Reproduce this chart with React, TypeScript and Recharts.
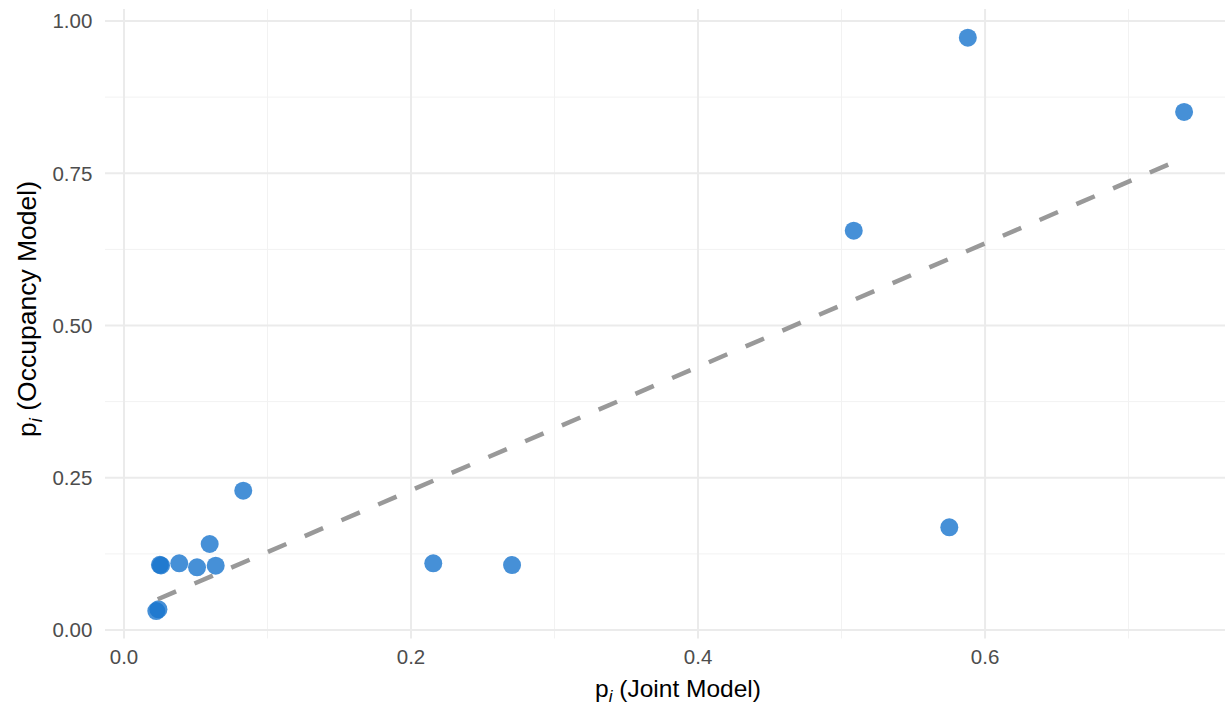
import React from "react";
import { ScatterChart, Scatter, XAxis, YAxis, CartesianGrid, Label } from "recharts";

const jointP = [0.0225, 0.0240, 0.0250, 0.0258, 0.0385, 0.0509, 0.0597, 0.0639, 0.0831, 0.2155, 0.2704, 0.5085, 0.5751, 0.5880, 0.7387];
const occupancyP = [0.031, 0.034, 0.107, 0.106, 0.1095, 0.103, 0.1412, 0.1056, 0.2287, 0.1095, 0.1067, 0.6557, 0.1686, 0.9726, 0.8506];

const fitX = [0.0235, 0.7387];
const fitY = [0.0504, 0.7754];

const xTicks = [0, 0.2, 0.4, 0.6];
const xTickLabels = ["0.0", "0.2", "0.4", "0.6"];
const xMinor = [0.1, 0.3, 0.5, 0.7];
const yTicks = [0, 0.25, 0.5, 0.75, 1];
const yTickLabels = ["0.00", "0.25", "0.50", "0.75", "1.00"];
const yMinor = [0.125, 0.375, 0.625, 0.875];

const points = jointP.map((x, i) => ({ x, y: occupancyP[i] }));
const fitLine = fitX.map((x, i) => ({ x, y: fitY[i] }));

const FONT = "'Liberation Sans', Arial, Helvetica, sans-serif";

const Dot = (props: any) => {
  const { cx, cy } = props;
  if (cx == null || cy == null) return null;
  return <circle cx={cx} cy={cy} r={9} fill="#1874CD" fillOpacity={0.8} />;
};

const NoShape = () => <g />;

const XTitle = () => (
  <text x={678} y={697} textAnchor="middle" fontFamily={FONT} fontSize={24.5} fill="#000">
    <tspan>p</tspan>
    <tspan fontStyle="italic" fontSize={17} dy={5}>i</tspan>
    <tspan dy={-5}> (Joint Model)</tspan>
  </text>
);

const YTitle = () => (
  <text
    x={0}
    y={0}
    transform="translate(36,309) rotate(-90)"
    textAnchor="middle"
    fontFamily={FONT}
    fontSize={26.5}
    fill="#000"
  >
    <tspan>p</tspan>
    <tspan fontStyle="italic" fontSize={18.5} dy={5.5}>i</tspan>
    <tspan dy={-5.5}> (Occupancy Model)</tspan>
  </text>
);

export default function App() {
  return (
    <div style={{ position: "absolute", left: 0, top: 0, width: 1225, height: 706, background: "#fff" }}>
      <ScatterChart width={1225} height={706} margin={{ top: 9, right: 0, bottom: 0, left: 0 }}>
        <CartesianGrid
          stroke="#f2f2f2"
          strokeWidth={1}
          horizontalValues={yMinor}
          verticalValues={xMinor}
        />
        <CartesianGrid
          stroke="#ebebeb"
          strokeWidth={2}
          horizontalValues={yTicks}
          verticalValues={xTicks}
        />
        <XAxis
          type="number"
          dataKey="x"
          domain={[-0.01324, 0.7672]}
          allowDataOverflow
          ticks={xTicks}
          tickFormatter={(v: number) => xTickLabels[xTicks.indexOf(v)] ?? String(v)}
          axisLine={false}
          tickLine={false}
          tickSize={0}
          tickMargin={11}
          height={67.5}
          tick={{ fill: "#4d4d4d", fontSize: 20.5, fontFamily: FONT }}
        >
          <Label content={() => <XTitle />} />
        </XAxis>
        <YAxis
          type="number"
          dataKey="y"
          domain={[-0.01396, 1.0197]}
          allowDataOverflow
          ticks={yTicks}
          tickFormatter={(v: number) => yTickLabels[yTicks.indexOf(v)] ?? String(v)}
          axisLine={false}
          tickLine={false}
          tickSize={0}
          tickMargin={12.7}
          width={105}
          tick={{ fill: "#4d4d4d", fontSize: 20.5, fontFamily: FONT }}
        >
          <Label content={() => <YTitle />} />
        </YAxis>
        <Scatter data={points} shape={Dot} isAnimationActive={false} />
        <Scatter
          data={fitLine}
          shape={NoShape}
          line={{ stroke: "#999999", strokeWidth: 4.5, strokeDasharray: "20 20" }}
          isAnimationActive={false}
        />
      </ScatterChart>
    </div>
  );
}
